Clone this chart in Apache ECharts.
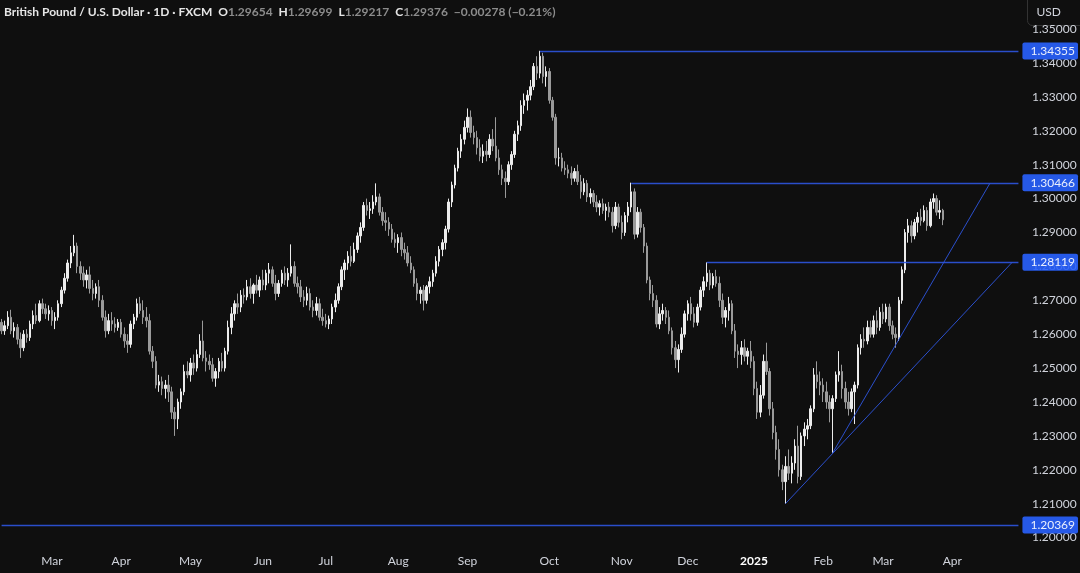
<!DOCTYPE html>
<html><head><meta charset="utf-8">
<script src="https://cdn.jsdelivr.net/npm/echarts@6/dist/echarts.min.js"></script>
<style>html,body{margin:0;padding:0;background:#0f0f0f}#c{width:1080px;height:573px}</style>
</head><body><div id="c"></div>
<script>
const symbolTitle = 'British Pound / U.S. Dollar · 1D · FXCM';
const changeText = '\u22120.00278 (\u22120.21%)';
const countdown = '11:53:45';
// daily candles [open, high, low, close]
const ohlc = [
[1.2635,1.2645,1.2600,1.2610],[1.2610,1.2640,1.2598,1.2625],[1.2625,1.2668,1.2615,1.2650],[1.2650,1.2672,1.2600,1.2610],
[1.2610,1.2635,1.2590,1.2620],[1.2620,1.2630,1.2570,1.2585],[1.2585,1.2605,1.2530,1.2560],[1.2560,1.2612,1.2550,1.2600],
[1.2600,1.2615,1.2575,1.2590],[1.2590,1.2640,1.2580,1.2630],[1.2630,1.2670,1.2615,1.2655],[1.2655,1.2690,1.2630,1.2640],
[1.2640,1.2700,1.2635,1.2690],[1.2690,1.2705,1.2660,1.2675],[1.2675,1.2690,1.2645,1.2660],[1.2660,1.2685,1.2640,1.2670],
[1.2670,1.2680,1.2625,1.2640],[1.2640,1.2665,1.2615,1.2650],[1.2650,1.2700,1.2640,1.2690],[1.2690,1.2740,1.2680,1.2730],
[1.2730,1.2780,1.2720,1.2765],[1.2765,1.2820,1.2755,1.2810],[1.2810,1.2860,1.2795,1.2840],[1.2840,1.2893,1.2830,1.2860],
[1.2860,1.2870,1.2780,1.2800],[1.2800,1.2815,1.2760,1.2780],[1.2780,1.2800,1.2740,1.2760],[1.2760,1.2790,1.2735,1.2775],
[1.2775,1.2800,1.2720,1.2735],[1.2735,1.2760,1.2700,1.2720],[1.2720,1.2750,1.2705,1.2740],[1.2740,1.2760,1.2680,1.2700],
[1.2700,1.2715,1.2640,1.2650],[1.2650,1.2670,1.2590,1.2610],[1.2610,1.2660,1.2600,1.2640],[1.2640,1.2665,1.2610,1.2630],
[1.2630,1.2650,1.2605,1.2620],[1.2620,1.2645,1.2610,1.2635],[1.2635,1.2645,1.2590,1.2600],[1.2600,1.2620,1.2560,1.2580],
[1.2580,1.2600,1.2545,1.2570],[1.2570,1.2640,1.2560,1.2630],[1.2630,1.2660,1.2615,1.2650],[1.2650,1.2705,1.2640,1.2690],
[1.2690,1.2710,1.2660,1.2670],[1.2670,1.2700,1.2630,1.2650],[1.2650,1.2680,1.2620,1.2640],[1.2640,1.2660,1.2540,1.2550],
[1.2550,1.2565,1.2500,1.2520],[1.2520,1.2535,1.2440,1.2450],[1.2450,1.2480,1.2430,1.2460],[1.2460,1.2475,1.2420,1.2440],
[1.2440,1.2465,1.2410,1.2450],[1.2450,1.2480,1.2400,1.2430],[1.2430,1.2445,1.2350,1.2370],[1.2370,1.2385,1.2300,1.2350],
[1.2350,1.2410,1.2320,1.2400],[1.2400,1.2440,1.2380,1.2430],[1.2430,1.2510,1.2420,1.2490],[1.2490,1.2520,1.2470,1.2480],
[1.2480,1.2530,1.2460,1.2515],[1.2515,1.2540,1.2480,1.2500],[1.2500,1.2555,1.2490,1.2540],[1.2540,1.2600,1.2530,1.2580],
[1.2580,1.2640,1.2520,1.2530],[1.2530,1.2550,1.2490,1.2520],[1.2520,1.2540,1.2495,1.2510],[1.2510,1.2530,1.2460,1.2470],
[1.2470,1.2500,1.2445,1.2490],[1.2490,1.2530,1.2470,1.2520],[1.2520,1.2545,1.2490,1.2500],[1.2500,1.2560,1.2490,1.2550],
[1.2550,1.2640,1.2540,1.2620],[1.2620,1.2680,1.2600,1.2660],[1.2660,1.2700,1.2640,1.2690],[1.2690,1.2720,1.2660,1.2680],
[1.2680,1.2730,1.2665,1.2715],[1.2715,1.2735,1.2690,1.2710],[1.2710,1.2760,1.2700,1.2740],[1.2740,1.2765,1.2705,1.2720],
[1.2720,1.2750,1.2690,1.2745],[1.2745,1.2775,1.2720,1.2730],[1.2730,1.2770,1.2710,1.2760],[1.2760,1.2790,1.2730,1.2745],
[1.2745,1.2790,1.2730,1.2780],[1.2780,1.2810,1.2750,1.2790],[1.2790,1.2800,1.2740,1.2750],[1.2750,1.2775,1.2700,1.2720],
[1.2720,1.2760,1.2710,1.2750],[1.2750,1.2790,1.2740,1.2780],[1.2780,1.2800,1.2745,1.2760],[1.2760,1.2795,1.2740,1.2780],
[1.2780,1.2865,1.2770,1.2800],[1.2800,1.2815,1.2740,1.2750],[1.2750,1.2770,1.2720,1.2740],[1.2740,1.2760,1.2695,1.2710],
[1.2710,1.2730,1.2680,1.2700],[1.2700,1.2740,1.2685,1.2720],[1.2720,1.2735,1.2670,1.2680],[1.2680,1.2700,1.2650,1.2670],
[1.2670,1.2710,1.2655,1.2690],[1.2690,1.2705,1.2640,1.2650],[1.2650,1.2675,1.2625,1.2640],[1.2640,1.2660,1.2620,1.2630],
[1.2630,1.2655,1.2615,1.2645],[1.2645,1.2690,1.2630,1.2680],[1.2680,1.2720,1.2665,1.2700],[1.2700,1.2750,1.2690,1.2740],
[1.2740,1.2800,1.2730,1.2790],[1.2790,1.2820,1.2760,1.2810],[1.2810,1.2845,1.2790,1.2830],[1.2830,1.2860,1.2800,1.2815],
[1.2815,1.2870,1.2810,1.2850],[1.2850,1.2900,1.2840,1.2890],[1.2890,1.2930,1.2870,1.2915],[1.2915,1.2990,1.2905,1.2980],
[1.2980,1.3000,1.2950,1.2965],[1.2965,1.2990,1.2940,1.2970],[1.2970,1.3010,1.2955,1.2990],[1.2990,1.3045,1.2980,1.3005],
[1.3005,1.3015,1.2950,1.2960],[1.2960,1.2975,1.2920,1.2935],[1.2935,1.2960,1.2905,1.2930],[1.2930,1.2945,1.2890,1.2910],
[1.2910,1.2925,1.2870,1.2880],[1.2880,1.2900,1.2855,1.2870],[1.2870,1.2895,1.2840,1.2885],[1.2885,1.2900,1.2830,1.2850],
[1.2850,1.2870,1.2820,1.2840],[1.2840,1.2860,1.2800,1.2810],[1.2810,1.2830,1.2780,1.2790],[1.2790,1.2800,1.2740,1.2750],
[1.2750,1.2765,1.2700,1.2720],[1.2720,1.2740,1.2690,1.2730],[1.2730,1.2745,1.2670,1.2700],[1.2700,1.2745,1.2690,1.2740],
[1.2740,1.2770,1.2720,1.2755],[1.2755,1.2790,1.2740,1.2780],[1.2780,1.2830,1.2770,1.2815],[1.2815,1.2860,1.2800,1.2850],
[1.2850,1.2880,1.2830,1.2870],[1.2870,1.2920,1.2850,1.2910],[1.2910,1.3000,1.2900,1.2990],[1.2990,1.3050,1.2975,1.3040],
[1.3040,1.3100,1.3030,1.3090],[1.3090,1.3150,1.3080,1.3140],[1.3140,1.3190,1.3120,1.3175],[1.3175,1.3230,1.3160,1.3210],
[1.3210,1.3266,1.3195,1.3240],[1.3240,1.3260,1.3180,1.3195],[1.3195,1.3215,1.3160,1.3180],[1.3180,1.3200,1.3130,1.3150],
[1.3150,1.3175,1.3110,1.3125],[1.3125,1.3160,1.3105,1.3140],[1.3140,1.3170,1.3110,1.3130],[1.3130,1.3190,1.3120,1.3175],
[1.3175,1.3205,1.3140,1.3155],[1.3155,1.3240,1.3110,1.3120],[1.3120,1.3145,1.3070,1.3085],[1.3085,1.3100,1.3040,1.3060],
[1.3060,1.3080,1.3002,1.3050],[1.3050,1.3110,1.3040,1.3100],[1.3100,1.3140,1.3085,1.3130],[1.3130,1.3200,1.3120,1.3190],
[1.3190,1.3230,1.3170,1.3215],[1.3215,1.3290,1.3200,1.3275],[1.3275,1.3310,1.3250,1.3290],[1.3290,1.3320,1.3260,1.3305],
[1.3305,1.3350,1.3290,1.3330],[1.3330,1.3400,1.3320,1.3390],[1.3390,1.3420,1.3350,1.3370],[1.3370,1.3436,1.3355,1.3420],
[1.3420,1.3430,1.3340,1.3360],[1.3360,1.3390,1.3330,1.3375],[1.3375,1.3385,1.3280,1.3290],[1.3290,1.3300,1.3230,1.3240],
[1.3240,1.3250,1.3100,1.3120],[1.3120,1.3150,1.3095,1.3120],[1.3120,1.3135,1.3080,1.3090],[1.3090,1.3110,1.3070,1.3085],
[1.3085,1.3100,1.3060,1.3075],[1.3075,1.3095,1.3040,1.3060],[1.3060,1.3090,1.3050,1.3080],[1.3080,1.3100,1.3040,1.3050],
[1.3050,1.3070,1.3000,1.3020],[1.3020,1.3060,1.3010,1.3045],[1.3045,1.3055,1.2990,1.3005],[1.3005,1.3030,1.2985,1.3015],
[1.3015,1.3025,1.2975,1.2990],[1.2990,1.3010,1.2960,1.2975],[1.2975,1.2995,1.2950,1.2985],[1.2985,1.3000,1.2955,1.2965],
[1.2965,1.2985,1.2935,1.2975],[1.2975,1.2990,1.2945,1.2960],[1.2960,1.2975,1.2900,1.2920],[1.2920,1.2990,1.2910,1.2975],
[1.2975,1.2985,1.2915,1.2930],[1.2930,1.2950,1.2880,1.2900],[1.2900,1.2960,1.2890,1.2950],[1.2950,1.2990,1.2930,1.2975],
[1.2975,1.3047,1.2960,1.3020],[1.3020,1.3030,1.2880,1.2895],[1.2895,1.2975,1.2885,1.2960],[1.2960,1.2970,1.2900,1.2915],
[1.2915,1.2925,1.2840,1.2860],[1.2860,1.2870,1.2750,1.2760],[1.2760,1.2770,1.2700,1.2720],[1.2720,1.2745,1.2680,1.2700],
[1.2700,1.2715,1.2620,1.2630],[1.2630,1.2680,1.2615,1.2660],[1.2660,1.2690,1.2640,1.2670],[1.2670,1.2680,1.2630,1.2650],
[1.2650,1.2670,1.2600,1.2610],[1.2610,1.2620,1.2540,1.2560],[1.2560,1.2580,1.2500,1.2525],[1.2525,1.2570,1.2487,1.2555],
[1.2555,1.2620,1.2545,1.2600],[1.2600,1.2670,1.2590,1.2660],[1.2660,1.2700,1.2640,1.2690],[1.2690,1.2710,1.2640,1.2660],
[1.2660,1.2680,1.2620,1.2635],[1.2635,1.2690,1.2625,1.2680],[1.2680,1.2740,1.2670,1.2730],[1.2730,1.2770,1.2710,1.2755],
[1.2755,1.2812,1.2740,1.2780],[1.2780,1.2790,1.2730,1.2745],[1.2745,1.2780,1.2735,1.2770],[1.2770,1.2790,1.2740,1.2750],
[1.2750,1.2770,1.2680,1.2700],[1.2700,1.2720,1.2630,1.2650],[1.2650,1.2680,1.2620,1.2670],[1.2670,1.2710,1.2640,1.2690],
[1.2690,1.2700,1.2600,1.2610],[1.2610,1.2630,1.2530,1.2550],[1.2550,1.2570,1.2500,1.2540],[1.2540,1.2580,1.2510,1.2560],
[1.2560,1.2585,1.2520,1.2535],[1.2535,1.2560,1.2510,1.2550],[1.2550,1.2580,1.2500,1.2520],[1.2520,1.2535,1.2420,1.2440],
[1.2440,1.2460,1.2350,1.2370],[1.2370,1.2450,1.2355,1.2420],[1.2420,1.2540,1.2410,1.2520],[1.2520,1.2575,1.2480,1.2490],
[1.2490,1.2500,1.2360,1.2380],[1.2380,1.2400,1.2290,1.2310],[1.2310,1.2330,1.2230,1.2260],[1.2260,1.2290,1.2180,1.2200],
[1.2200,1.2215,1.2140,1.2165],[1.2165,1.2240,1.2100,1.2210],[1.2210,1.2260,1.2170,1.2190],[1.2190,1.2240,1.2160,1.2220],
[1.2220,1.2290,1.2200,1.2270],[1.2270,1.2330,1.2160,1.2180],[1.2180,1.2310,1.2170,1.2300],[1.2300,1.2340,1.2270,1.2320],
[1.2320,1.2350,1.2290,1.2330],[1.2330,1.2390,1.2320,1.2380],[1.2380,1.2500,1.2370,1.2480],[1.2480,1.2520,1.2440,1.2460],
[1.2460,1.2490,1.2420,1.2450],[1.2450,1.2470,1.2400,1.2430],[1.2430,1.2460,1.2380,1.2400],[1.2400,1.2420,1.2340,1.2380],
[1.2380,1.2420,1.2250,1.2410],[1.2410,1.2490,1.2400,1.2480],[1.2480,1.2550,1.2460,1.2490],[1.2490,1.2510,1.2410,1.2440],
[1.2440,1.2460,1.2380,1.2400],[1.2400,1.2430,1.2360,1.2380],[1.2380,1.2440,1.2370,1.2430],[1.2430,1.2460,1.2335,1.2450],
[1.2450,1.2570,1.2440,1.2560],[1.2560,1.2600,1.2540,1.2585],[1.2585,1.2620,1.2560,1.2580],[1.2580,1.2640,1.2570,1.2620],
[1.2620,1.2640,1.2590,1.2600],[1.2600,1.2655,1.2590,1.2640],[1.2640,1.2670,1.2600,1.2620],[1.2620,1.2680,1.2610,1.2665],
[1.2665,1.2690,1.2630,1.2645],[1.2645,1.2690,1.2635,1.2680],[1.2680,1.2690,1.2610,1.2625],[1.2625,1.2640,1.2585,1.2600],
[1.2600,1.2620,1.2560,1.2590],[1.2590,1.2710,1.2580,1.2700],[1.2700,1.2800,1.2690,1.2790],[1.2790,1.2910,1.2780,1.2900],
[1.2900,1.2940,1.2870,1.2920],[1.2920,1.2935,1.2870,1.2890],[1.2890,1.2940,1.2880,1.2930],[1.2930,1.2960,1.2900,1.2945],
[1.2945,1.2970,1.2920,1.2935],[1.2935,1.2980,1.2930,1.2965],[1.2965,1.2975,1.2905,1.2920],[1.2920,1.3000,1.2915,1.2990],
[1.2990,1.3015,1.2970,1.3000],[1.3000,1.3010,1.2950,1.2960],[1.2960,1.2995,1.2940,1.2965],[1.29654,1.29699,1.29217,1.29376]
];
const totalSlots = 324; // candle slots incl. empty space on the right
const monthTicks = [[16,'Mar'],[38,'Apr'],[60,'May'],[83,'Jun'],[103,'Jul'],[126,'Aug'],[148,'Sep'],[174,'Oct'],[197,'Nov'],[218,'Dec'],[239,'2025'],[261,'Feb'],[280,'Mar'],[302,'Apr']];
const levelPrices = [1.34355, 1.30466, 1.28119];
const levelStartBars = [171, 200, 224];
const supportPrice = 1.20369;
const trendlines = [[[249,1.2100],[321,1.2812]], [[264,1.2250],[314,1.3046]]];

const categories = Array.from({length: totalSlots}, (_, i) => String(i));
const tickMap = {}; monthTicks.forEach(t => tickMap[t[0]] = t[1]);
const last = ohlc[ohlc.length - 1];
const lastSlot = String(totalSlots - 1);

const lineColor = '#2d55e0';
const lineStyle = {color: lineColor, width: 1.3, type: 'solid', opacity: 0.9};
const blueLabel = (p) => ({show: true, position: 'end', distance: 4, formatter: p.toFixed(5),
  backgroundColor: '#2962ff', color: '#ffffff', padding: [3, 3, 2, 8], fontSize: 12, fontFamily: 'Lato', borderRadius: 2});

const mlData = [];
levelPrices.forEach((p, k) => {
  mlData.push([{coord: [String(levelStartBars[k]), p], lineStyle: lineStyle}, {coord: [lastSlot, p], label: blueLabel(p)}]);
});
mlData.push([{coord: ['0', supportPrice], lineStyle: lineStyle}, {coord: [lastSlot, supportPrice], label: blueLabel(supportPrice)}]);
trendlines.forEach(t => {
  mlData.push([{coord: [String(t[0][0]), t[0][1]], lineStyle: {color: lineColor, width: 1, opacity: 0.9}}, {coord: [String(t[1][0]), t[1][1]], label: {show: false}}]);
});
mlData.push([{coord: ['0', last[3]], lineStyle: {opacity: 0}}, {coord: [lastSlot, last[3]], lineStyle: {opacity: 0},
  label: {show: true, position: 'end', distance: 4,
  formatter: last[3].toFixed(5) + '\n' + countdown, backgroundColor: '#626262', color: '#ffffff',
  padding: [3, 3, 3, 8], lineHeight: 14, fontSize: 12, fontFamily: 'Lato', offset: [0, 7], borderRadius: 2}}]);

const chart = echarts.init(document.getElementById('c'), null, {renderer: 'canvas'});
chart.setOption({
  backgroundColor: '#0f0f0f',
  animation: false,
  title: {
    left: 4, top: 6, padding: 0,
    text: '{w|' + symbolTitle + '}{s| }{w|O}{g|' + last[0].toFixed(5) + '}{s| }{w|H}{g|' + last[1].toFixed(5) +
      '}{s| }{w|L}{g|' + last[2].toFixed(5) + '}{s| }{w|C}{g|' + last[3].toFixed(5) + '}{s| }{g|' + changeText + '}',
    textStyle: {rich: {
      w: {color: '#e6e6e6', fontSize: 12, fontFamily: 'Lato'},
      g: {color: '#8c8c8c', fontSize: 12, fontFamily: 'Lato'},
      s: {width: 6, fontSize: 12}
    }}
  },
  grid: {left: 0, right: 60, top: 29.1, bottom: 1.5, containLabel: false},
  xAxis: {
    type: 'category', data: categories, boundaryGap: true,
    axisLine: {show: false}, axisTick: {show: false}, splitLine: {show: false},
    axisLabel: {
      inside: true, margin: 4, color: '#d1d4dc', fontSize: 12, fontFamily: 'Lato', hideOverlap: false,
      interval: (idx) => tickMap[idx] !== undefined,
      formatter: (v, idx) => tickMap[idx] === '2025' ? '{b|2025}' : (tickMap[idx] || ''),
      rich: {b: {color: '#ffffff', fontWeight: 'bold', fontSize: 12, fontFamily: 'Lato'}}
    }
  },
  yAxis: {
    type: 'value', position: 'right', min: 1.19, max: 1.35, interval: 0.01, scale: true,
    axisLine: {show: false}, axisTick: {show: false}, splitLine: {show: false},
    axisLabel: {margin: 12, color: '#d1d4dc', fontSize: 12, fontFamily: 'Lato',
      showMinLabel: false, showMaxLabel: true, formatter: (v) => v.toFixed(5)}
  },
  series: [{
    type: 'candlestick',
    data: ohlc.map(r => [r[0], r[3], r[2], r[1]]),
    barWidth: 2,
    clip: false,
    itemStyle: {color: '#ececec', color0: '#9a9a9a', borderColor: '#ececec', borderColor0: '#9a9a9a', borderWidth: 1},
    markLine: {
      silent: true, symbol: ['none', 'none'], animation: false,
      lineStyle: lineStyle,
      label: {show: false},
      data: mlData
    }
  }],
  graphic: [{
    type: 'group', left: 1027, top: -6, z: 100,
    children: [
      {type: 'rect', shape: {x: 0, y: 0, width: 60, height: 31, r: 5}, style: {fill: '#0f0f0f', stroke: '#333333', lineWidth: 1}},
      {type: 'text', x: 9, y: 12, style: {text: 'USD', fill: '#d1d4dc', fontSize: 12, fontFamily: 'Lato'}}
    ]
  }]
});
</script></body></html>
